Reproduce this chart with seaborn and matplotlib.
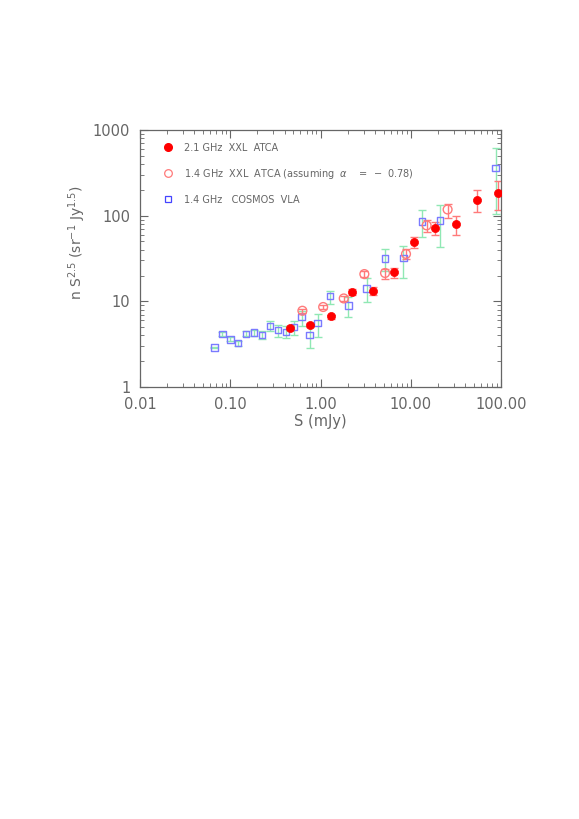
import numpy as np
import pandas as pd
import seaborn as sns
import matplotlib.pyplot as plt
from matplotlib.lines import Line2D
from matplotlib.ticker import FixedLocator, FixedFormatter, LogLocator, NullFormatter

# 1.4 GHz COSMOS VLA
cosmos_s = [0.0667, 0.0817, 0.100, 0.122, 0.149, 0.183, 0.225, 0.275, 0.338, 0.415, 0.508,
            0.618, 0.759, 0.931, 1.27, 2.03, 3.25, 5.19, 8.28, 13.3, 21.1, 87.3]
cosmos_n = [2.9, 4.13, 3.6, 3.24, 4.17, 4.32, 4.05, 5.17, 4.6, 4.36, 4.99,
            6.54, 4.05, 5.56, 11.5, 8.97, 14.2, 31.5, 32.0, 85.7, 87.4, 360]
cosmos_lo = [2.85, 3.9, 3.4, 3.0, 3.9, 3.95, 3.6, 4.56, 3.87, 3.7, 4.05,
             5.18, 2.88, 3.87, 9.4, 6.54, 9.9, 22.5, 18.8, 55.6, 43.5, 105]
cosmos_hi = [2.95, 4.35, 3.8, 3.45, 4.45, 4.64, 4.52, 5.87, 5.22, 5.18, 5.93,
             7.63, 5.46, 7.1, 13.2, 11.3, 18.6, 41.3, 44.4, 117, 133, 620]

# 2.1 GHz XXL ATCA
atca21_s = [0.455, 0.77, 1.31, 2.25, 3.78, 6.47, 10.96, 18.7, 31.7, 53.7, 91.8]
atca21_n = [4.86, 5.31, 6.66, 13.0, 13.2, 21.7, 49.0, 72.3, 80.5, 154, 185]
atca21_lo = [4.6, 5.0, 6.3, 12.0, 11.7, 18.5, 42.4, 58.7, 59.7, 111, 115]
atca21_hi = [5.1, 5.6, 7.0, 14.0, 14.8, 24.7, 56.6, 84.9, 100, 198, 253]

# 1.4 GHz XXL ATCA (scaled with alpha = -0.78)
atca14_s = [0.63, 1.07, 1.81, 3.06, 5.19, 8.86, 15.0, 25.6]
atca14_n = [7.76, 8.58, 10.8, 20.8, 21.4, 35.7, 76.9, 118]
atca14_lo = [7.3, 8.1, 10.1, 19.3, 18.3, 30.9, 64.9, 94.6]
atca14_hi = [8.2, 9.1, 11.5, 22.4, 24.0, 40.6, 88, 137]

xticks = [0.01, 0.1, 1, 10, 100]
xticklabels = ['0.01', '0.10', '1.00', '10.00', '100.00']
yticks = [1, 10, 100, 1000]
yticklabels = ['1', '10', '100', '1000']

sns.set_style('ticks')
plt.rcParams['font.family'] = ['DejaVu Sans']

txt = '#666666'
red = '#ff0000'
lred = '#ff7a7a'
blue = '#7a7aff'
green = '#90e8b4'

fig = plt.figure(figsize=(5.79, 8.19), dpi=100)
ax = fig.add_axes([0.2418, 0.5275, 0.6235, 0.3138])

# error bars
ax.errorbar(cosmos_s, cosmos_n,
            yerr=[np.array(cosmos_n) - np.array(cosmos_lo), np.array(cosmos_hi) - np.array(cosmos_n)],
            fmt='none', ecolor=green, elinewidth=1.0, capsize=3, capthick=1.0, zorder=1)
ax.errorbar(atca14_s, atca14_n,
            yerr=[np.array(atca14_n) - np.array(atca14_lo), np.array(atca14_hi) - np.array(atca14_n)],
            fmt='none', ecolor=lred, elinewidth=1.0, capsize=3, capthick=1.0, zorder=1)
ax.errorbar(atca21_s, atca21_n,
            yerr=[np.array(atca21_n) - np.array(atca21_lo), np.array(atca21_hi) - np.array(atca21_n)],
            fmt='none', ecolor=lred, elinewidth=1.0, capsize=3, capthick=1.0, zorder=1)

# markers
df_cosmos = pd.DataFrame({'S': cosmos_s, 'N': cosmos_n})
df_14 = pd.DataFrame({'S': atca14_s, 'N': atca14_n})
df_21 = pd.DataFrame({'S': atca21_s, 'N': atca21_n})

sns.scatterplot(data=df_cosmos, x='S', y='N', ax=ax, marker='s', s=22,
                facecolor='none', edgecolor=blue, linewidth=1.0, zorder=3)
sns.scatterplot(data=df_14, x='S', y='N', ax=ax, marker='o', s=40,
                facecolor='none', edgecolor=lred, linewidth=1.0, zorder=3)
sns.scatterplot(data=df_21, x='S', y='N', ax=ax, marker='o', s=34,
                color=red, edgecolor=red, linewidth=0.5, zorder=4)

ax.set_xscale('log')
ax.set_yscale('log')
ax.set_xlim(0.01, 100)
ax.set_ylim(1, 1000)

ax.xaxis.set_major_locator(FixedLocator(xticks))
ax.xaxis.set_major_formatter(FixedFormatter(xticklabels))
ax.yaxis.set_major_locator(FixedLocator(yticks))
ax.yaxis.set_major_formatter(FixedFormatter(yticklabels))
for axis in [ax.xaxis, ax.yaxis]:
    axis.set_minor_locator(LogLocator(base=10, subs=np.arange(2, 10), numticks=20))
    axis.set_minor_formatter(NullFormatter())

ax.tick_params(which='both', direction='in', top=True, right=True, colors='#666666',
               labelcolor=txt, labelsize=10.5)
ax.tick_params(which='major', length=6, width=0.8, pad=7)
ax.tick_params(which='minor', length=3, width=0.6)
for sp in ax.spines.values():
    sp.set_color('#666666')
    sp.set_linewidth(0.9)

ax.set_xlabel('S (mJy)', color=txt, fontsize=10.5, labelpad=2)
ax.set_ylabel('n S$^{2.5}$ (sr$^{-1}$ Jy$^{1.5}$)', color=txt, fontsize=10, labelpad=0)
ax.yaxis.set_label_coords(-0.145, 0.56)

handles = [
    Line2D([], [], ls='none', marker='o', ms=5.5, color=red),
    Line2D([], [], ls='none', marker='o', ms=5.5, mfc='none', mec=lred, mew=0.9),
    Line2D([], [], ls='none', marker='s', ms=4, mfc='none', mec='#4444ff', mew=0.9),
]
labels = ['2.1 GHz  XXL  ATCA',
          r'1.4 GHz  XXL  ATCA (assuming  $\alpha$    =  −  0.78)',
          '1.4 GHz   COSMOS  VLA']
leg = ax.legend(handles, labels, loc='upper left', bbox_to_anchor=(0.04, 0.985),
                frameon=False, fontsize=7, labelspacing=1.45, handletextpad=1.1,
                handlelength=1.0)
for t in leg.get_texts():
    t.set_color(txt)

fig.savefig('out.png', dpi=100, facecolor='white')
